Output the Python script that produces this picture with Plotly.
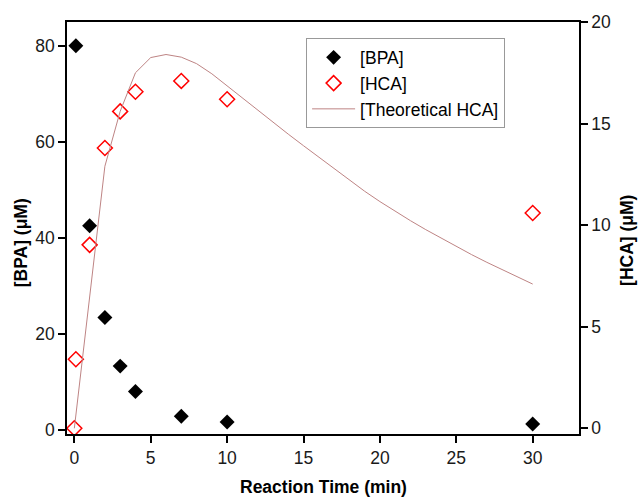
import plotly.graph_objects as go

# ---- data ----
bpa_time = [0.1, 1, 2, 3, 4, 7, 10, 30]
bpa_conc = [80.0, 42.5, 23.4, 13.3, 8.0, 2.85, 1.67, 1.25]

hca_time = [0, 0.1, 1, 2, 3, 4, 7, 10, 30]
hca_conc = [0.0, 3.4, 9.03, 13.8, 15.6, 16.57, 17.1, 16.2, 10.6]

theo_time = list(range(0, 31))
theo_conc = [0.0, 6.5, 12.9, 15.6, 17.5, 18.25, 18.4, 18.27, 17.95, 17.45,
             16.85, 16.25, 15.65, 15.06, 14.48, 13.91, 13.35, 12.76, 12.2, 11.67,
             11.16, 10.68, 10.22, 9.78, 9.36, 8.94, 8.55, 8.17, 7.8, 7.45, 7.1]

x_ticks = [0, 5, 10, 15, 20, 25, 30]
y_ticks = [0, 20, 40, 60, 80]
y2_ticks = [0, 5, 10, 15, 20]

FONT = "Arial, 'Liberation Sans', sans-serif"
FS = 17.5

fig = go.Figure()
fig.add_trace(go.Scatter(
    x=bpa_time, y=bpa_conc, name="[BPA]", mode="markers",
    marker=dict(symbol="diamond", size=11.5, color="black",
                line=dict(width=0)),
    yaxis="y"))
fig.add_trace(go.Scatter(
    x=hca_time, y=hca_conc, name="[HCA]", mode="markers",
    marker=dict(symbol="diamond-open", size=11.5, color="#FF0000",
                line=dict(width=1.5, color="#FF0000")),
    yaxis="y2"))
fig.add_trace(go.Scatter(
    x=theo_time, y=theo_conc, name="[Theoretical HCA]", mode="lines",
    line=dict(color="#BE8484", width=1),
    yaxis="y2"))

axis_common = dict(showgrid=False, zeroline=False, showline=True,
                   linecolor="black", linewidth=1.5, ticks="outside",
                   ticklen=7, tickwidth=1.5, tickcolor="black",
                   tickfont=dict(family=FONT, size=FS, color="#1a1a1a"))

fig.update_layout(
    width=639, height=497,
    margin=dict(l=67, r=60, t=22, b=63, pad=0),
    paper_bgcolor="white", plot_bgcolor="white",
    font=dict(family=FONT, size=FS, color="black"),
    xaxis=dict(range=[-0.48, 33.03], tickvals=x_ticks, mirror=True,
               **axis_common),
    yaxis=dict(range=[-0.83, 84.93], tickvals=y_ticks, **axis_common),
    yaxis2=dict(range=[-0.28, 20.0], tickvals=y2_ticks, overlaying="y",
                side="right", **axis_common),
    showlegend=True,
    legend=dict(x=0.467, y=0.96, xanchor="left", yanchor="top",
                bordercolor="#999999", borderwidth=1, bgcolor="white",
                font=dict(family=FONT, size=FS, color="black"),
                itemwidth=43, tracegroupgap=0),
    annotations=[
        dict(text="<b>Reaction Time (min)</b>", xref="paper", yref="paper",
             x=0.5, y=-0.128, xanchor="center", yanchor="middle",
             showarrow=False, font=dict(family=FONT, size=FS)),
        dict(text="<b>[BPA] (μM)</b>", xref="paper", yref="paper",
             x=-0.0892, y=0.4636, xanchor="center", yanchor="middle",
             textangle=-90, showarrow=False, font=dict(family=FONT, size=FS)),
        dict(text="<b>[HCA] (μM)</b>", xref="paper", yref="paper",
             x=1.0937, y=0.471, xanchor="center", yanchor="middle",
             textangle=-90, showarrow=False, font=dict(family=FONT, size=FS)),
    ],
)

fig.write_html("out.html")
